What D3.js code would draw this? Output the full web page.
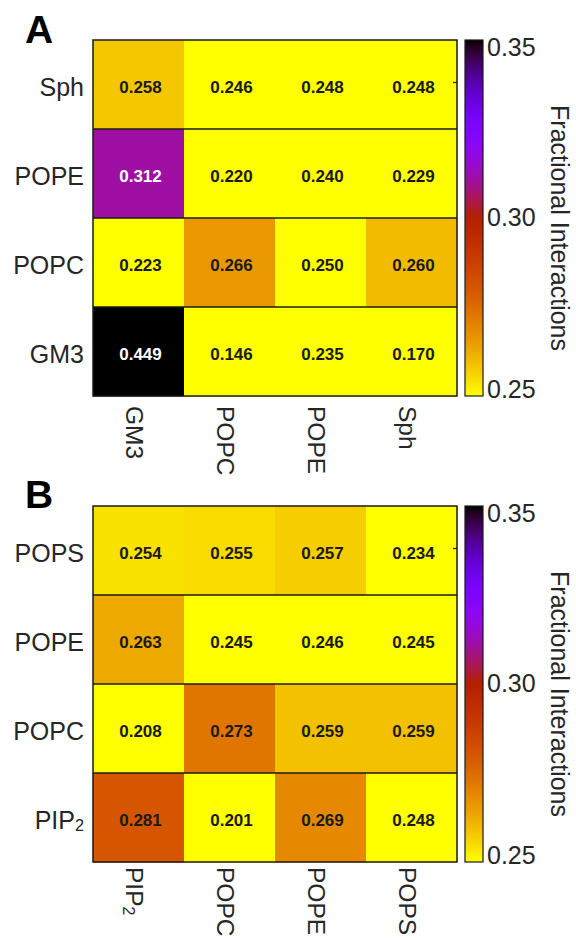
<!DOCTYPE html>
<html><head><meta charset="utf-8">
<script src="https://cdn.jsdelivr.net/npm/d3@7"></script>
<style>html,body{margin:0;padding:0;background:#fff;}svg{display:block;font-family:"Liberation Sans",Arial,sans-serif;}</style>
</head><body>
<script>
// ---------- data ----------
const rowsA = ["Sph", "POPE", "POPC", "GM3"];
const colsA = ["GM3", "POPC", "POPE", "Sph"];
const valuesA = [
  [0.258, 0.246, 0.248, 0.248],
  [0.312, 0.220, 0.240, 0.229],
  [0.223, 0.266, 0.250, 0.260],
  [0.449, 0.146, 0.235, 0.170]
];
const rowsB = ["POPS", "POPE", "POPC", "PIP2"];
const colsB = ["PIP2", "POPC", "POPE", "POPS"];
const valuesB = [
  [0.254, 0.255, 0.257, 0.234],
  [0.263, 0.245, 0.246, 0.245],
  [0.208, 0.273, 0.259, 0.259],
  [0.281, 0.201, 0.269, 0.248]
];
const colorTicks = [0.25, 0.30, 0.35];
const colorDomain = [0.2500, 0.3515];
const colorbarTitle = "Fractional Interactions";

// ---------- drawing ----------
const W = 576, H = 940;
const svg = d3.select("body").append("svg").attr("width", W).attr("height", H);

// gnuplot colormap (reversed via domain)
function gnuplot(t) {
  t = Math.max(0, Math.min(1, t));
  const r = Math.sqrt(t), g = t * t * t, b = Math.max(0, Math.sin(2 * Math.PI * t));
  return d3.rgb(r * 255, g * 255, b * 255).toString();
}
const color = d3.scaleSequential(gnuplot).domain([colorDomain[1], colorDomain[0]]).clamp(true);

function label(sel, name) {
  if (name === "PIP2") {
    sel.text(null);
    sel.append("tspan").text("PIP");
    sel.append("tspan").attr("font-size", "0.65em").attr("dy", "0.35em").text("2");
  } else sel.text(name);
}

function panel(opt) {
  const {top, letter, letterY, rows, cols, values, xgap} = opt;
  const left = 93, cw = 91, rh = 89;
  const width = cw * cols.length, height = rh * rows.length;
  const x = d3.scaleBand().domain(cols).range([left, left + width]);
  const y = d3.scaleBand().domain(rows).range([top, top + height]);
  const g = svg.append("g");

  const cells = [];
  rows.forEach((r, i) => cols.forEach((c, j) => cells.push({r, c, v: values[i][j]})));

  g.selectAll("rect.cell").data(cells).join("rect")
    .attr("x", d => x(d.c)).attr("y", d => y(d.r))
    .attr("width", x.bandwidth() + 0.5).attr("height", y.bandwidth() + 0.5)
    .attr("fill", d => color(d.v));

  // row separators
  g.selectAll("line.sep").data(rows.slice(1)).join("line")
    .attr("x1", left).attr("x2", left + width)
    .attr("y1", d => y(d)).attr("y2", d => y(d))
    .attr("stroke", "#1a1a1a").attr("stroke-width", 1.3);
  g.append("rect").attr("x", left).attr("y", top).attr("width", width).attr("height", height)
    .attr("fill", "none").attr("stroke", "#1a1a1a").attr("stroke-width", 1.5);

  // right-edge tick on top row
  g.append("line").attr("x1", left + width).attr("x2", left + width - 4)
    .attr("y1", y(rows[0]) + y.bandwidth() / 2 - 2).attr("y2", y(rows[0]) + y.bandwidth() / 2 - 2)
    .attr("stroke", "#1a1a1a").attr("stroke-width", 1.2);

  g.selectAll("text.val").data(cells).join("text")
    .attr("x", d => x(d.c) + x.bandwidth() / 2 + 2)
    .attr("y", d => y(d.r) + y.bandwidth() / 2 + 3)
    .attr("text-anchor", "middle").attr("dominant-baseline", "central")
    .attr("font-size", 17).attr("font-weight", "bold")
    .attr("fill", d => d.v > 0.3 ? "#ffffff" : "#1a1a1a")
    .text(d => d3.format(".3f")(d.v));

  // y labels
  g.selectAll("text.ylab").data(rows).join("text")
    .attr("x", left - 9).attr("y", d => y(d) + y.bandwidth() / 2 + 2)
    .attr("text-anchor", "end").attr("dominant-baseline", "central")
    .attr("font-size", 25).attr("fill", "#262626")
    .each(function(d) { label(d3.select(this), d); });

  // x labels (rotated)
  g.selectAll("text.xlab").data(cols).join("text")
    .attr("transform", d => `translate(${x(d) + x.bandwidth() / 2 - 4},${top + height + xgap}) rotate(90)`)
    .attr("text-anchor", "start").attr("dominant-baseline", "central")
    .attr("font-size", 24.5).attr("fill", "#262626")
    .each(function(d) { label(d3.select(this), d); });

  // panel letter
  svg.append("text").attr("x", 25).attr("y", letterY).attr("font-size", 39)
    .attr("font-weight", "bold").attr("fill", "#000").text(letter);

  // colorbar
  const cbx = 465, cbw = 18;
  const cy = d3.scaleLinear().domain(colorDomain).range([top + height, top]);
  const gid = "grad" + letter;
  const grad = svg.append("defs").append("linearGradient").attr("id", gid)
    .attr("x1", 0).attr("y1", 1).attr("x2", 0).attr("y2", 0);
  d3.range(0, 1.0001, 0.02).forEach(t => {
    const v = colorDomain[0] + t * (colorDomain[1] - colorDomain[0]);
    grad.append("stop").attr("offset", t).attr("stop-color", color(v));
  });
  g.append("rect").attr("x", cbx).attr("y", top).attr("width", cbw).attr("height", height)
    .attr("fill", `url(#${gid})`).attr("stroke", "#1a1a1a").attr("stroke-width", 1.2);
  g.selectAll("text.ctick").data(colorTicks).join("text")
    .attr("x", cbx + cbw + 4)
    .attr("y", d => Math.max(top + 7, Math.min(top + height - 7, cy(d) - (d === 0.30 ? 4 : 0))))
    .attr("dominant-baseline", "central").attr("font-size", 25).attr("fill", "#262626")
    .text(d => d3.format(".2f")(d));
  g.append("text")
    .attr("transform", `translate(560,${top + height / 2 + 10}) rotate(90)`)
    .attr("text-anchor", "middle").attr("dominant-baseline", "central")
    .attr("font-size", 25).attr("fill", "#262626").text(colorbarTitle);
}

panel({top: 40, letter: "A", letterY: 43, rows: rowsA, cols: colsA, values: valuesA, xgap: 10});
panel({top: 506, letter: "B", letterY: 508, rows: rowsB, cols: colsB, values: valuesB, xgap: 5});
</script>
</body></html>
